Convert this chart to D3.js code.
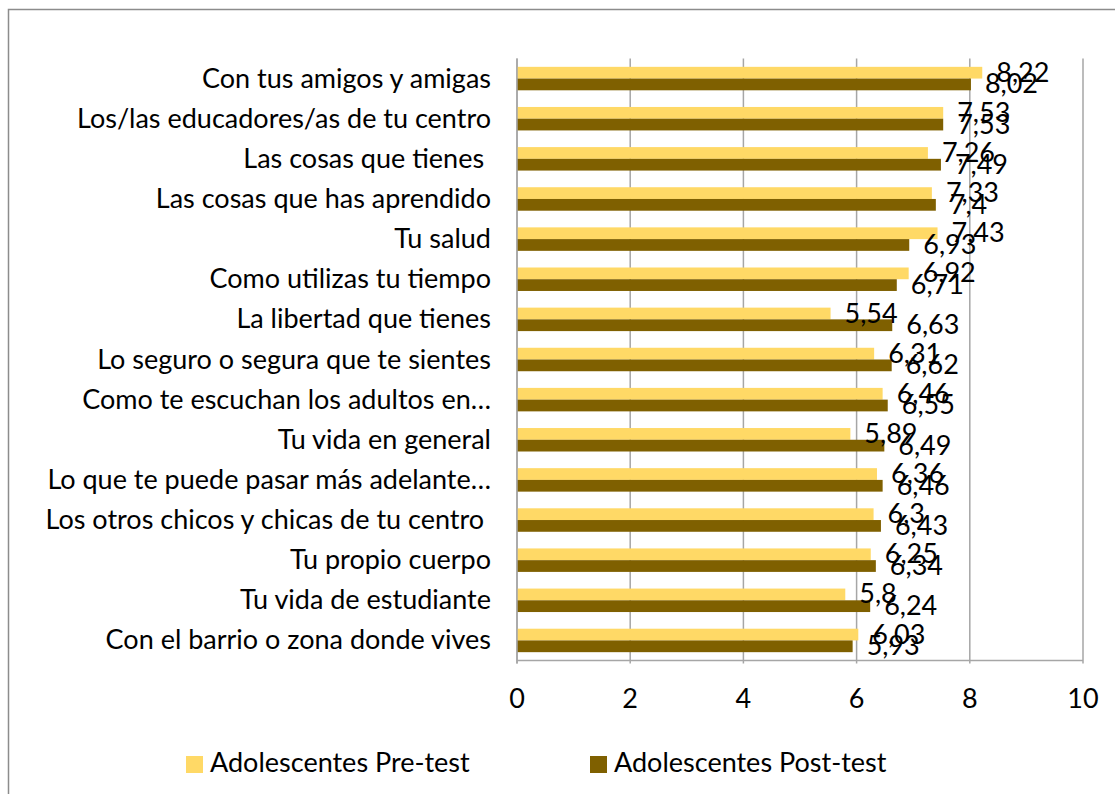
<!DOCTYPE html>
<html><head><meta charset="utf-8">
<script src="https://cdn.jsdelivr.net/npm/d3@7"></script>
<style>
body{margin:0;background:#fff;}
svg text{font-family:Lato,"Open Sans",sans-serif;fill:#000;white-space:pre;}
</style></head>
<body>
<svg id="chart" width="1115" height="794"></svg>
<script>
const categories = [
  "Con tus amigos y amigas",
  "Los/las educadores/as de tu centro",
  "Las cosas que tienes ",
  "Las cosas que has aprendido",
  "Tu salud",
  "Como utilizas tu tiempo",
  "La libertad que tienes",
  "Lo seguro o segura que te sientes",
  "Como te escuchan los adultos en…",
  "Tu vida en general",
  "Lo que te puede pasar más adelante…",
  "Los otros chicos y chicas de tu centro ",
  "Tu propio cuerpo",
  "Tu vida de estudiante",
  "Con el barrio o zona donde vives"
];
const preTest  = [8.22, 7.53, 7.26, 7.33, 7.43, 6.92, 5.54, 6.31, 6.46, 5.89, 6.36, 6.3, 6.25, 5.8, 6.03];
const postTest = [8.02, 7.53, 7.49, 7.4, 6.93, 6.71, 6.63, 6.62, 6.55, 6.49, 6.46, 6.43, 6.34, 6.24, 5.93];
const seriesNames = ["Adolescentes Pre-test", "Adolescentes Post-test"];
const seriesColors = ["#FFD966", "#7F6000"];
const xTicks = [0, 2, 4, 6, 8, 10];

const svg = d3.select("#chart");
svg.append("rect").attr("x", 8.5).attr("y", 9.5).attr("width", 1115).attr("height", 800)
  .attr("fill", "none").attr("stroke", "#8c8c8c").attr("stroke-width", 1.5);

const pLeft = 517, pRight = 1083, pTop = 58.5, pBottom = 660.5;
const x = d3.scaleLinear().domain([0, 10]).range([pLeft, pRight]);
const y = d3.scaleBand().domain(categories).range([pTop, pBottom]).padding(0);
const ys = d3.scaleBand().domain([0, 1]).range([0, y.bandwidth()]).paddingInner(0).paddingOuter(0.71);

const grid = "#a6a6a6";
svg.append("g").selectAll("line").data(xTicks).join("line")
  .attr("x1", d => x(d)).attr("x2", d => x(d)).attr("y1", pTop).attr("y2", pBottom + 3)
  .attr("stroke", grid).attr("stroke-width", 1.5);
svg.append("line").attr("x1", pLeft).attr("x2", pRight).attr("y1", pBottom).attr("y2", pBottom)
  .attr("stroke", grid).attr("stroke-width", 1.5);

const data = categories.map((c, i) => ({c, vals: [preTest[i], postTest[i]]}));
const g = svg.append("g").selectAll("g").data(data).join("g")
  .attr("transform", d => `translate(0,${y(d.c)})`);
g.selectAll("rect").data(d => d.vals.map((v, k) => ({v, k}))).join("rect")
  .attr("x", x(0)).attr("y", d => ys(d.k)).attr("width", d => x(d.v) - x(0))
  .attr("height", ys.bandwidth()).attr("fill", d => seriesColors[d.k]);
g.selectAll("text.val").data(d => d.vals.map((v, k) => ({v, k}))).join("text")
  .attr("class", "val")
  .attr("x", d => x(d.v) + 14).attr("y", d => ys(d.k) + ys.bandwidth() / 2 + 9)
  .attr("font-size", 27)
  .text(d => String(d.v).replace(".", ","));

svg.append("line").attr("x1", pLeft).attr("x2", pLeft).attr("y1", pTop).attr("y2", pBottom + 3)
  .attr("stroke", grid).attr("stroke-width", 1.5);

svg.append("g").selectAll("text").data(categories).join("text")
  .attr("x", 491).attr("y", d => y(d) + y.bandwidth() / 2 + 9)
  .attr("text-anchor", "end").attr("font-size", 27).text(d => d);

svg.append("g").selectAll("text").data(xTicks).join("text")
  .attr("x", d => x(d)).attr("y", 708).attr("text-anchor", "middle").attr("font-size", 27)
  .text(d => d);

const legX = [186, 590];
const lg = svg.append("g").selectAll("g").data(seriesNames).join("g")
  .attr("transform", (d, i) => `translate(${legX[i]},756)`);
lg.append("rect").attr("width", 17).attr("height", 17).attr("fill", (d, i) => seriesColors[i]);
lg.append("text").attr("x", 24).attr("y", 16).attr("font-size", 27).text(d => d);
</script>
</body></html>
